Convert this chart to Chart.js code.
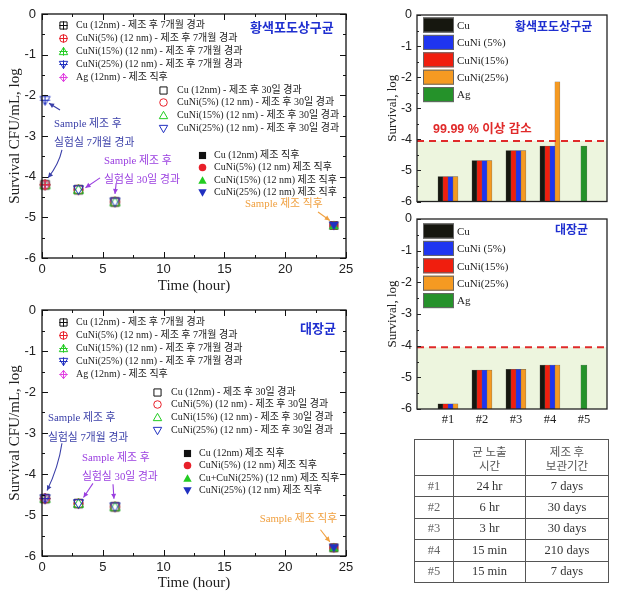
<!DOCTYPE html>
<html><head><meta charset="utf-8">
<script src="https://cdn.jsdelivr.net/npm/chart.js@4"></script>
<style>
html,body{margin:0;padding:0;background:#fff;width:621px;height:597px;overflow:hidden;}
canvas{position:absolute;}
#tbl{position:absolute;left:414px;top:439px;width:194px;height:144px;border-collapse:collapse;table-layout:fixed;
 font-family:'Liberation Serif',serif;font-size:12.5px;color:#333;}
#tbl td{border:1px solid #555;text-align:center;padding:0;}
#tbl td.k{font-family:'Noto Sans CJK KR',sans-serif;font-size:11.5px;color:#555;line-height:14px;}
#tbl td.id{color:#666;}
</style></head><body>
<canvas id="c1" width="360" height="295" style="left:0;top:0"></canvas>
<canvas id="c2" width="360" height="302" style="left:0;top:295px"></canvas>
<canvas id="c3" width="236" height="214" style="left:385px;top:0"></canvas>
<canvas id="c4" width="236" height="230" style="left:385px;top:205px"></canvas>
<table id="tbl"></table>
<script>
// ---------------- DATA ----------------
const timeHours = [0.25, 3, 6, 24];            // 15 min, 3 h, 6 h, 24 h exposure
// 황색포도상구균 (S. aureus), survival log; order: Cu, CuNi(5%), CuNi(15%), CuNi(25%), Ag
const saStored7Months = [-4.20, -4.20, -4.20, -2.12, -4.20]; // at 15 min
const saStored30Days3h = [-4.32, -4.32, -4.32, -4.32];       // at 3 h
const saStored30Days6h = [-4.62, -4.62, -4.62, -4.62];       // at 6 h
const saFresh24h       = [-5.20, -5.20, -5.20, -5.20];       // at 24 h
// 대장균 (E. coli)
const ecStored7Months = [-4.60, -4.60, -4.60, -4.60, -4.60];
const ecStored30Days3h = [-4.72, -4.72, -4.72, -4.72];
const ecStored30Days6h = [-4.80, -4.80, -4.80, -4.80];
const ecFresh24h       = [-5.80, -5.80, -5.80, -5.80];

// bar charts (#1..#5)
const sampleIds = ['#1', '#2', '#3', '#4', '#5'];
const saBarCu      = [-5.20, -4.68, -4.36, -4.22, null];
const saBarCuNi5   = [-5.20, -4.68, -4.36, -4.22, null];
const saBarCuNi15  = [-5.20, -4.68, -4.36, -4.22, null];
const saBarCuNi25  = [-5.20, -4.68, -4.36, -2.15, null];
const saBarAg      = [null, null, null, null, -4.22];
const ecBarCu      = [-5.84, -4.77, -4.75, -4.61, null];
const ecBarCuNi5   = [-5.84, -4.77, -4.75, -4.61, null];
const ecBarCuNi15  = [-5.84, -4.77, -4.75, -4.61, null];
const ecBarCuNi25  = [-5.84, -4.77, -4.75, -4.61, null];
const ecBarAg      = [null, null, null, null, -4.61];
const reductionThreshold = -4.05;

// table
const exposureTimes = ['24 hr', '6 hr', '3 hr', '15 min', '15 min'];
const storagePeriods = ['7 days', '30 days', '30 days', '210 days', '7 days'];

// legend labels
const lbl7m = ['Cu (12nm) - 제조 후 7개월 경과', 'CuNi(5%) (12 nm) - 제조 후 7개월 경과', 'CuNi(15%) (12 nm) - 제조 후 7개월 경과', 'CuNi(25%) (12 nm) - 제조 후 7개월 경과', 'Ag (12nm) - 제조 직후'];
const lbl30d = ['Cu (12nm) - 제조 후 30일 경과', 'CuNi(5%) (12 nm) - 제조 후 30일 경과', 'CuNi(15%) (12 nm) - 제조 후 30일 경과', 'CuNi(25%) (12 nm) - 제조 후 30일 경과'];
const lblFreshSa = ['Cu (12nm) 제조 직후', 'CuNi(5%) (12 nm) 제조 직후', 'CuNi(15%) (12 nm) 제조 직후', 'CuNi(25%) (12 nm) 제조 직후'];
const lblFreshEc = ['Cu (12nm) 제조 직후', 'CuNi(5%) (12 nm) 제조 직후', 'Cu+CuNi(25%) (12 nm) 제조 직후', 'CuNi(25%) (12 nm) 제조 직후'];
const barLegend = ['Cu', 'CuNi (5%)', 'CuNi(15%)', 'CuNi(25%)', 'Ag'];

// ---------------- STYLE ----------------
Chart.defaults.font.family = "'Liberation Sans', Arial, sans-serif";
Chart.defaults.color = '#222';
const SERIF = "'Liberation Serif', 'Noto Sans CJK KR', serif";
const matColors = ['#111111', '#e8202a', '#22cc22', '#2030c0', '#e040e0'];
const shapes = ['square', 'circle', 'up', 'down', 'diamond'];

function drawMarker(g, kind, x, y, r, color, filled, cross) {
  g.save(); g.strokeStyle = color; g.fillStyle = color; g.lineWidth = 1;
  g.beginPath();
  if (kind === 'square') { const h = r * 0.85; g.rect(x - h, y - h, 2 * h, 2 * h); }
  else if (kind === 'circle') g.arc(x, y, r * 0.9, 0, Math.PI * 2);
  else if (kind === 'up') { g.moveTo(x, y - r); g.lineTo(x + r, y + r * 0.75); g.lineTo(x - r, y + r * 0.75); g.closePath(); }
  else if (kind === 'down') { g.moveTo(x, y + r); g.lineTo(x + r, y - r * 0.75); g.lineTo(x - r, y - r * 0.75); g.closePath(); }
  else if (kind === 'diamond') { g.moveTo(x, y - r); g.lineTo(x + r * 0.8, y); g.lineTo(x, y + r); g.lineTo(x - r * 0.8, y); g.closePath(); }
  if (filled) g.fill(); else g.stroke();
  if (cross) { g.beginPath(); g.moveTo(x - r, y); g.lineTo(x + r, y); g.moveTo(x, y - r); g.lineTo(x, y + r); g.stroke(); }
  g.restore();
}
function markerCanvas(kind, color, r, filled, cross) {
  const s = 2 * Math.ceil(r) + 3;
  const c = document.createElement('canvas'); c.width = s; c.height = s;
  drawMarker(c.getContext('2d'), kind, s / 2, s / 2, r, color, filled, cross);
  return c;
}

// ---------------- PLUGINS ----------------
const frameTicks = {
  id: 'frameTicks',
  afterDraw(chart, args, o) {
    const { ctx, chartArea: a } = chart;
    ctx.save(); ctx.strokeStyle = o.color || '#111'; ctx.lineWidth = o.lineWidth || 1.3;
    ctx.strokeRect(a.left, a.top, a.right - a.left, a.bottom - a.top);
    ctx.lineWidth = 1; ctx.beginPath();
    const ax = (scale, spec, horiz) => {
      const vals = scale.ticks.map(t => t.value);
      const list = [];
      vals.forEach((v, i) => { list.push([v, spec.len]); if (i < vals.length - 1 && spec.minor) list.push([(v + vals[i + 1]) / 2, spec.minor]); });
      list.forEach(([v, L]) => {
        const p = Math.round(scale.getPixelForValue(v)) + 0.5;
        if (horiz) {
          ctx.moveTo(p, a.bottom); ctx.lineTo(p, a.bottom - L);
          if (spec.mirror) { ctx.moveTo(p, a.top); ctx.lineTo(p, a.top + L); }
        } else {
          ctx.moveTo(a.left, p); ctx.lineTo(a.left + L, p);
          if (spec.mirror) { ctx.moveTo(a.right, p); ctx.lineTo(a.right - L, p); }
        }
      });
    };
    if (o.x) ax(chart.scales.x, o.x, true);
    if (o.y) ax(chart.scales.y, o.y, false);
    ctx.stroke(); ctx.restore();
  }
};

const notes = {
  id: 'notes',
  afterDatasetsDraw(chart, args, o) {
    const { ctx } = chart; const xs = chart.scales.x, ys = chart.scales.y;
    ctx.save();
    (o.texts || []).forEach(t => {
      ctx.font = t.font || o.font; ctx.fillStyle = t.color; ctx.textBaseline = 'middle'; ctx.textAlign = 'left';
      ctx.fillText(t.text, xs.getPixelForValue(t.x), ys.getPixelForValue(t.y));
    });
    (o.arrows || []).forEach(ar => {
      const x1 = xs.getPixelForValue(ar.from[0]), y1 = ys.getPixelForValue(ar.from[1]);
      const x2 = xs.getPixelForValue(ar.to[0]) + ar.off[0], y2 = ys.getPixelForValue(ar.to[1]) + ar.off[1];
      ctx.strokeStyle = ar.color; ctx.fillStyle = ar.color; ctx.lineWidth = 1.1;
      ctx.beginPath(); ctx.moveTo(x1, y1);
      let ang;
      if (ar.bend) {
        const cx = (x1 + x2) / 2 + ar.bend[0], cy = (y1 + y2) / 2 + ar.bend[1];
        ctx.quadraticCurveTo(cx, cy, x2, y2); ang = Math.atan2(y2 - cy, x2 - cx);
      } else { ctx.lineTo(x2, y2); ang = Math.atan2(y2 - y1, x2 - x1); }
      ctx.stroke();
      const L = 5, W = 2.5, c = Math.cos(ang), s = Math.sin(ang);
      ctx.beginPath(); ctx.moveTo(x2, y2);
      ctx.lineTo(x2 - L * c + W * s, y2 - L * s - W * c);
      ctx.lineTo(x2 - L * c - W * s, y2 - L * s + W * c);
      ctx.closePath(); ctx.fill();
    });
    ctx.restore();
  }
};

const markerLegend = {
  id: 'markerLegend',
  afterDraw(chart, args, o) {
    const { ctx, chartArea: a } = chart;
    ctx.save(); ctx.textBaseline = 'middle'; ctx.textAlign = 'left';
    o.groups.forEach(g => g.items.forEach((it, i) => {
      const cy = a.top + g.y + i * g.dy;
      const img = it.marker;
      ctx.drawImage(img, Math.round(a.left + g.mx - img.width / 2), Math.round(cy - img.height / 2));
      ctx.font = o.font; ctx.fillStyle = '#222';
      ctx.fillText(it.text, a.left + g.tx, cy);
    }));
    ctx.font = o.titleFont; ctx.fillStyle = o.titleColor;
    ctx.fillText(o.title, a.left + o.titleX, a.top + o.titleY);
    ctx.restore();
  }
};

const thresholdZone = {
  id: 'thresholdZone',
  beforeDatasetsDraw(chart, args, o) {
    const { ctx, chartArea: a } = chart; const y = chart.scales.y.getPixelForValue(o.value);
    ctx.save(); ctx.fillStyle = o.fill; ctx.fillRect(a.left, y, a.right - a.left, a.bottom - y); ctx.restore();
  },
  afterDatasetsDraw(chart, args, o) {
    const { ctx, chartArea: a } = chart; const y = chart.scales.y.getPixelForValue(o.value);
    ctx.save(); ctx.strokeStyle = o.line; ctx.lineWidth = 2; ctx.setLineDash([7, 5]);
    ctx.beginPath(); ctx.moveTo(a.left, y); ctx.lineTo(a.right, y); ctx.stroke();
    if (o.label) {
      ctx.setLineDash([]); ctx.font = o.labelFont; ctx.fillStyle = o.line; ctx.textBaseline = 'middle';
      ctx.fillText(o.label, a.left + o.labelX, chart.scales.y.getPixelForValue(o.labelY));
    }
    ctx.restore();
  }
};

const boxLegend = {
  id: 'boxLegend',
  afterDraw(chart, args, o) {
    const { ctx, chartArea: a } = chart;
    ctx.save(); ctx.textBaseline = 'middle';
    o.items.forEach((it, i) => {
      const cy = a.top + o.y + i * o.dy;
      const x = a.left + o.x;
      ctx.fillStyle = it.color; ctx.fillRect(x, cy - 7.5, 31, 15);
      ctx.strokeStyle = '#666'; ctx.lineWidth = 1; ctx.strokeRect(x + 0.5, cy - 7.5 + 0.5, 30, 14);
      ctx.fillStyle = '#222'; ctx.font = o.font; ctx.fillText(it.text, x + 34, cy + 1);
    });
    ctx.font = o.titleFont; ctx.fillStyle = o.titleColor;
    ctx.fillText(o.title, a.left + o.titleX, a.top + o.titleY);
    ctx.restore();
  }
};

// ---------------- SCATTER CHARTS ----------------
function buildScatter(el, d, cfg) {
  const plotR = 5, legR = 4.2;
  const m7 = shapes.map((s, i) => markerCanvas(s, matColors[i], plotR, false, true));
  const m30 = shapes.slice(0, 4).map((s, i) => markerCanvas(s, matColors[i], plotR, false, false));
  const mF = shapes.slice(0, 4).map((s, i) => markerCanvas(s, matColors[i], plotR, true, false));
  const l7 = shapes.map((s, i) => markerCanvas(s, matColors[i], legR, false, true));
  const l30 = shapes.slice(0, 4).map((s, i) => markerCanvas(s, matColors[i], legR, false, false));
  const lF = shapes.slice(0, 4).map((s, i) => markerCanvas(s, matColors[i], legR, true, false));
  const ds = [];
  const order4 = [3, 2, 1, 0];
  order4.forEach(i => ds.push({ label: cfg.lblFresh[i], data: [{ x: timeHours[3], y: d.fresh[i] }], pointStyle: mF[i] }));
  order4.forEach(i => ds.push({ label: lbl30d[i], data: [{ x: timeHours[1], y: d.s30_3[i] }, { x: timeHours[2], y: d.s30_6[i] }], pointStyle: m30[i] }));
  [3, 1, 4, 2, 0].forEach(i => ds.push({ label: lbl7m[i], data: [{ x: timeHours[0], y: d.s7[i] }], pointStyle: m7[i] }));
  return new Chart(el, {
    type: 'scatter',
    data: { datasets: ds },
    options: {
      responsive: false, animation: false, clip: false,
      layout: { padding: cfg.padding },
      plugins: {
        legend: { display: false }, tooltip: { enabled: false },
        frameTicks: { x: { len: 6, minor: 3, mirror: true }, y: { len: 6, minor: 3, mirror: true } },
        notes: { font: "10.8px " + SERIF, texts: cfg.texts, arrows: cfg.arrows },
        markerLegend: {
          font: "10px " + SERIF,
          titleFont: "bold 13px 'Noto Sans CJK KR', sans-serif", titleColor: '#1f2fd0',
          title: cfg.title, titleX: cfg.titleX, titleY: cfg.titleY,
          groups: [
            { mx: 21, tx: 34, y: cfg.g1y, dy: 13.2, items: lbl7m.map((t, i) => ({ text: t, marker: l7[i] })) },
            { mx: cfg.g2x, tx: cfg.g2x + 14, y: cfg.g2y, dy: 12.7, items: lbl30d.map((t, i) => ({ text: t, marker: l30[i] })) },
            { mx: cfg.g3x, tx: cfg.g3x + 12, y: cfg.g3y, dy: 12.5, items: cfg.lblFresh.map((t, i) => ({ text: t, marker: lF[i] })) }
          ]
        }
      },
      scales: {
        x: {
          type: 'linear', min: 0, max: 25,
          grid: { display: false, drawTicks: false }, border: { display: false },
          ticks: { stepSize: 5, padding: 4, font: { size: 13 }, color: '#222' },
          title: { display: true, text: 'Time (hour)', font: { family: SERIF, size: 15 }, color: '#222', padding: { top: 0, bottom: cfg.xTitlePad } },
          afterFit: s => { s.height = cfg.xH; }
        },
        y: {
          min: -6, max: 0,
          grid: { display: false, drawTicks: false }, border: { display: false },
          ticks: { stepSize: 1, padding: 6, font: { size: 13 }, color: '#222' },
          title: { display: true, text: 'Survival CFU/mL, log', font: { family: SERIF, size: 15 }, color: '#222', padding: { top: 6, bottom: 0 } },
          afterFit: s => { s.width = 42; }
        }
      }
    },
    plugins: [frameTicks, notes, markerLegend]
  });
}

const BLUE = '#3a3fa8', PURPLE = '#9a3fe0', ORANGE = '#f0a040';
buildScatter(document.getElementById('c1'),
  { s7: saStored7Months, s30_3: saStored30Days3h, s30_6: saStored30Days6h, fresh: saFresh24h },
  {
    padding: { top: 14, right: 14, left: 0, bottom: 0 }, xH: 37, xTitlePad: 0,
    lblFresh: lblFreshSa, title: '황색포도상구균', titleX: 208, titleY: 13,
    g1y: 11, g2x: 121, g2y: 76, g3x: 160, g3y: 141,
    texts: [
      { x: 0.99, y: -2.70, text: 'Sample 제조 후', color: BLUE },
      { x: 0.99, y: -3.17, text: '실험실 7개월 경과', color: BLUE },
      { x: 5.1, y: -3.61, text: 'Sample 제조 후', color: PURPLE },
      { x: 5.1, y: -4.08, text: '실험실 30일 경과', color: PURPLE },
      { x: 16.7, y: -4.67, text: 'Sample 제조 직후', color: ORANGE }
    ],
    arrows: [
      { from: [1.48, -2.36], to: [timeHours[0], saStored7Months[3]], off: [4, 3], color: BLUE },
      { from: [1.64, -3.34], to: [timeHours[0], saStored7Months[0]], off: [3, -7], color: BLUE, bend: [4, 0] },
      { from: [4.77, -4.03], to: [timeHours[1], saStored30Days3h[0]], off: [7, -2], color: PURPLE },
      { from: [6.1, -4.16], to: [timeHours[2], saStored30Days6h[0]], off: [0, -8], color: PURPLE },
      { from: [22.7, -4.87], to: [timeHours[3], saFresh24h[0]], off: [-4, -5], color: ORANGE }
    ]
  });
buildScatter(document.getElementById('c2'),
  { s7: ecStored7Months, s30_3: ecStored30Days3h, s30_6: ecStored30Days6h, fresh: ecFresh24h },
  {
    padding: { top: 15, right: 14, left: 0, bottom: 0 }, xH: 41, xTitlePad: 5,
    lblFresh: lblFreshEc, title: '대장균', titleX: 258, titleY: 18,
    g1y: 12, g2x: 115, g2y: 82, g3x: 145, g3y: 143,
    texts: [
      { x: 0.49, y: -2.63, text: 'Sample 제조 후', color: BLUE },
      { x: 0.49, y: -3.12, text: '실험실 7개월 경과', color: BLUE },
      { x: 3.29, y: -3.61, text: 'Sample 제조 후', color: PURPLE },
      { x: 3.29, y: -4.08, text: '실험실 30일 경과', color: PURPLE },
      { x: 17.9, y: -5.11, text: 'Sample 제조 직후', color: ORANGE }
    ],
    arrows: [
      { from: [1.64, -3.25], to: [timeHours[0], ecStored7Months[0]], off: [2, -8], color: BLUE, bend: [4, 0] },
      { from: [4.19, -4.23], to: [timeHours[1], ecStored30Days3h[0]], off: [5, -6], color: PURPLE },
      { from: [5.84, -4.25], to: [timeHours[2], ecStored30Days6h[0]], off: [-1, -8], color: PURPLE },
      { from: [22.9, -5.36], to: [timeHours[3], ecFresh24h[0]], off: [-4, -6], color: ORANGE }
    ]
  });

// ---------------- BAR CHARTS ----------------
const barColors = { Cu: '#16170f', CuNi5: '#1f35f0', CuNi15: '#f01e0e', CuNi25: '#f59a22', Ag: '#25922a' };
function buildBars(el, v, cfg) {
  const series = [['Cu', v.Cu], ['CuNi15', v.CuNi15], ['CuNi5', v.CuNi5], ['CuNi25', v.CuNi25], ['Ag', v.Ag]];
  const datasets = series.map(([k, arr]) => ({
    label: k,
    data: arr.map((y, i) => ({ x: i + 1, y })).filter(p => p.y !== null),
    backgroundColor: barColors[k], borderColor: 'rgba(40,40,40,0.7)', borderWidth: 0.5,
    base: -6, barThickness: k === 'Ag' ? 6 : 5, skipNull: true
  }));
  return new Chart(el, {
    type: 'bar',
    data: { datasets },
    options: {
      responsive: false, animation: false,
      layout: { padding: cfg.padding },
      plugins: {
        legend: { display: false }, tooltip: { enabled: false },
        frameTicks: { y: { len: 4, minor: 2, mirror: false }, lineWidth: 1.3, color: '#222' },
        thresholdZone: { value: reductionThreshold, fill: 'rgb(237,245,222)', line: '#e02a2a',
          label: cfg.redLabel, labelX: 16, labelY: -3.7, labelFont: "bold 12.5px 'Liberation Sans', 'Noto Sans CJK KR', sans-serif" },
        boxLegend: {
          x: 6, y: cfg.legY, dy: 17.4, font: "11px " + SERIF,
          items: barLegend.map((t, i) => ({ text: t, color: [barColors.Cu, barColors.CuNi5, barColors.CuNi15, barColors.CuNi25, barColors.Ag][i] })),
          title: cfg.title, titleX: cfg.titleX, titleY: cfg.titleY,
          titleFont: "bold 12px 'Noto Sans CJK KR', sans-serif", titleColor: '#1f2fd0'
        }
      },
      scales: {
        x: {
          type: 'linear', min: 0.09, max: 5.68, offset: false, display: cfg.showX,
          grid: { display: false, drawTicks: false }, border: { display: false },
          ticks: { stepSize: 1, includeBounds: false, autoSkip: false, padding: 3, font: { family: SERIF, size: 12.5 }, color: '#222',
            callback: val => (Number.isInteger(val) && val >= 1 && val <= 5) ? sampleIds[val - 1] : '' },
          afterFit: s => { s.height = cfg.xH; }
        },
        y: {
          min: -6, max: 0,
          grid: { display: false, drawTicks: false }, border: { display: false },
          ticks: { stepSize: 1, padding: 5, font: { size: 12.5 }, color: '#222' },
          title: { display: true, text: 'Survival, log', font: { family: SERIF, size: 13 }, color: '#222', padding: 0 },
          afterFit: s => { s.width = 32; }
        }
      }
    },
    plugins: [thresholdZone, frameTicks, boxLegend]
  });
}
buildBars(document.getElementById('c3'),
  { Cu: saBarCu, CuNi5: saBarCuNi5, CuNi15: saBarCuNi15, CuNi25: saBarCuNi25, Ag: saBarAg },
  { padding: { top: 15, right: 14, left: 0, bottom: 3 }, showX: false, xH: 0, legY: 10,
    title: '황색포도상구균', titleX: 98, titleY: 11, redLabel: '99.99 % 이상 감소' });
buildBars(document.getElementById('c4'),
  { Cu: ecBarCu, CuNi5: ecBarCuNi5, CuNi15: ecBarCuNi15, CuNi25: ecBarCuNi25, Ag: ecBarAg },
  { padding: { top: 14, right: 14, left: 0, bottom: 0 }, showX: true, xH: 26, legY: 12,
    title: '대장균', titleX: 138, titleY: 10, redLabel: '' });

// ---------------- TABLE ----------------
const tbl = document.getElementById('tbl');
let html = '<colgroup><col style="width:39px"><col style="width:72px"><col style="width:83px"></colgroup>';
html += '<tr style="height:36px"><td></td><td class="k">균 노출<br>시간</td><td class="k">제조 후<br>보관기간</td></tr>';
sampleIds.forEach((id, i) => { html += `<tr><td class="id">${id}</td><td>${exposureTimes[i]}</td><td>${storagePeriods[i]}</td></tr>`; });
tbl.innerHTML = html;
</script>
</body></html>
